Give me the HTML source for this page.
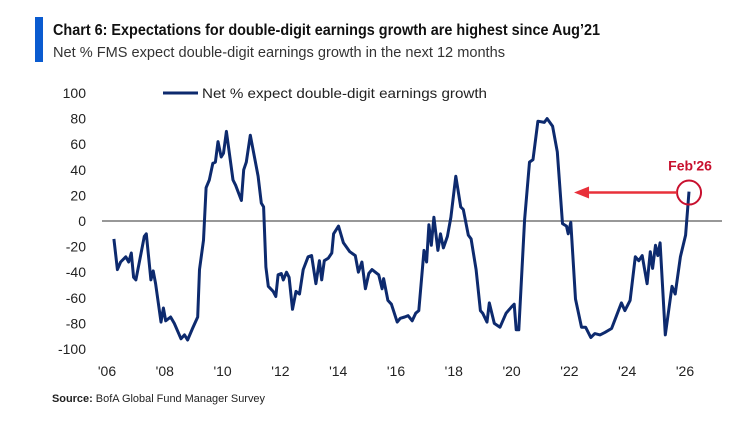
<!DOCTYPE html>
<html><head><meta charset="utf-8"><style>
html,body{margin:0;padding:0;background:#fff;}
svg{display:block;font-family:"Liberation Sans",sans-serif;}
</style></head><body>
<svg id="chart" width="744" height="431" viewBox="0 0 744 431">
<rect x="35" y="17" width="8" height="45" fill="#0a5bd0"/>
<text x="53" y="35" font-size="16" font-weight="bold" fill="#111" textLength="547" lengthAdjust="spacingAndGlyphs">Chart 6: Expectations for double-digit earnings growth are highest since Aug’21</text>
<text x="53" y="57" font-size="15" fill="#333" textLength="452" lengthAdjust="spacingAndGlyphs">Net % FMS expect double-digit earnings growth in the next 12 months</text>
<line x1="163" y1="93" x2="198" y2="93" stroke="#0d2a6e" stroke-width="3"/>
<text x="202" y="98" font-size="14" fill="#222" textLength="285" lengthAdjust="spacingAndGlyphs">Net % expect double-digit earnings growth</text>
<g id="yaxis"></g>
<g id="xaxis"></g>
<line id="zero" stroke="#777" stroke-width="1.5"/>
<path id="series" fill="none" stroke="#0d2a6e" stroke-width="3" stroke-linejoin="round"/>
<g id="annot"></g>
<text x="52" y="402" font-size="11" fill="#222" textLength="213" lengthAdjust="spacingAndGlyphs"><tspan font-weight="bold">Source:</tspan> BofA Global Fund Manager Survey</text>
</svg>
<script>
const yTicks=[100,80,60,40,20,0,-20,-40,-60,-80,-100];
const xTickYears=[2006,2008,2010,2012,2014,2016,2018,2020,2022,2024,2026];
const xTickLabels=["'06","'08","'10","'12","'14","'16","'18","'20","'22","'24","'26"];
const dates=[2006.24,2006.36,2006.47,2006.65,2006.75,2006.84,2006.92,2007.0,2007.29,2007.36,2007.52,2007.6,2007.68,2007.87,2007.95,2008.03,2008.2,2008.33,2008.56,2008.68,2008.79,2008.96,2009.14,2009.2,2009.34,2009.43,2009.54,2009.66,2009.75,2009.84,2009.95,2010.03,2010.13,2010.36,2010.45,2010.65,2010.73,2010.82,2010.96,2011.23,2011.34,2011.42,2011.5,2011.58,2011.75,2011.84,2011.92,2012.03,2012.1,2012.21,2012.3,2012.42,2012.54,2012.66,2012.79,2012.96,2013.08,2013.23,2013.35,2013.43,2013.52,2013.66,2013.78,2013.84,2014.01,2014.18,2014.4,2014.59,2014.7,2014.82,2014.94,2015.06,2015.17,2015.4,2015.52,2015.57,2015.72,2015.84,2016.04,2016.15,2016.3,2016.42,2016.56,2016.68,2016.79,2016.97,2017.06,2017.14,2017.22,2017.31,2017.45,2017.54,2017.64,2017.78,2017.9,2018.07,2018.24,2018.33,2018.5,2018.6,2018.77,2018.92,2019.0,2019.15,2019.23,2019.4,2019.6,2019.81,2020.0,2020.09,2020.16,2020.25,2020.45,2020.62,2020.74,2020.91,2021.13,2021.23,2021.42,2021.58,2021.76,2021.9,2021.96,2022.05,2022.21,2022.42,2022.56,2022.74,2022.88,2023.06,2023.23,2023.46,2023.63,2023.8,2023.92,2024.1,2024.28,2024.4,2024.52,2024.69,2024.8,2024.88,2024.98,2025.06,2025.14,2025.32,2025.55,2025.66,2025.84,2026.02,2026.14];
const values=[-14,-38,-32,-28,-32,-25,-44,-46,-12,-10,-46,-39,-49,-79,-68,-78,-75,-80,-92,-89,-93,-84,-75,-38,-15,26,32,45,46,62,50,53,70,32,28,16,40,46,67,35,14,11,-36,-51,-55,-59,-42,-41,-46,-40,-44,-69,-55,-57,-38,-28,-27,-49,-31,-46,-31,-29,-25,-10,-4,-17,-24,-27,-40,-32,-53,-41,-38,-42,-53,-45,-62,-65,-79,-76,-75,-74,-78,-72,-70,-23,-32,-3,-19,3,-23,-10,-21,-12,3,35,11,9,-11,-14,-38,-70,-72,-79,-64,-80,-83,-72,-67,-65,-85,-85,1,46,48,78,77,80,74,54,-2,-4,-10,-1,-61,-83,-83,-91,-88,-89,-87,-84,-74,-64,-70,-62,-28,-31,-27,-49,-24,-37,-19,-27,-17,-89,-51,-57,-28,-11,23];
const annotDate=2026.14, annotValue=23;

const NS="http://www.w3.org/2000/svg";
function xs(t){return 107+28.9*(t-2006);}
function ys(v){return 221-1.28*v;}
function mk(tag,attrs,parent){const e=document.createElementNS(NS,tag);for(const k in attrs)e.setAttribute(k,attrs[k]);parent.appendChild(e);return e;}
const ya=document.getElementById('yaxis');
yTicks.forEach(v=>{const t=mk('text',{x:86,y:ys(v)+5,'font-size':14,fill:'#222','text-anchor':'end'},ya);


t.textContent=v;});
const xa=document.getElementById('xaxis');
xTickYears.forEach((yr,i)=>{const t=mk('text',{x:xs(yr),y:376,'font-size':14,fill:'#222','text-anchor':'middle'},xa);


t.textContent=xTickLabels[i];});
const z=document.getElementById('zero');
z.setAttribute('x1',102);z.setAttribute('x2',722);z.setAttribute('y1',ys(0));z.setAttribute('y2',ys(0));
let d='';dates.forEach((t,i)=>{d+=(i?'L':'M')+xs(t).toFixed(1)+','+ys(values[i]).toFixed(1);});
document.getElementById('series').setAttribute('d',d);
const an=document.getElementById('annot');
const cx=xs(annotDate), cy=ys(annotValue)+1;
const c=mk('circle',{cx:cx,cy:cy,r:12,fill:'none',stroke:'#c8102e','stroke-width':2},an);


const ln=mk('line',{x1:cx-12,y1:cy,x2:cx-100,y2:cy,stroke:'#e8303a','stroke-width':2.5},an);


const hd=mk('polygon',{points:`${cx-115},${cy} ${cx-100},${cy-6} ${cx-100},${cy+6}`,fill:'#e8303a'},an);


const lb=mk('text',{x:cx+1,y:cy-22,'font-size':14,'font-weight':'bold',fill:'#c8102e','text-anchor':'middle'},an);


lb.textContent="Feb'26";
</script>
</body></html>
